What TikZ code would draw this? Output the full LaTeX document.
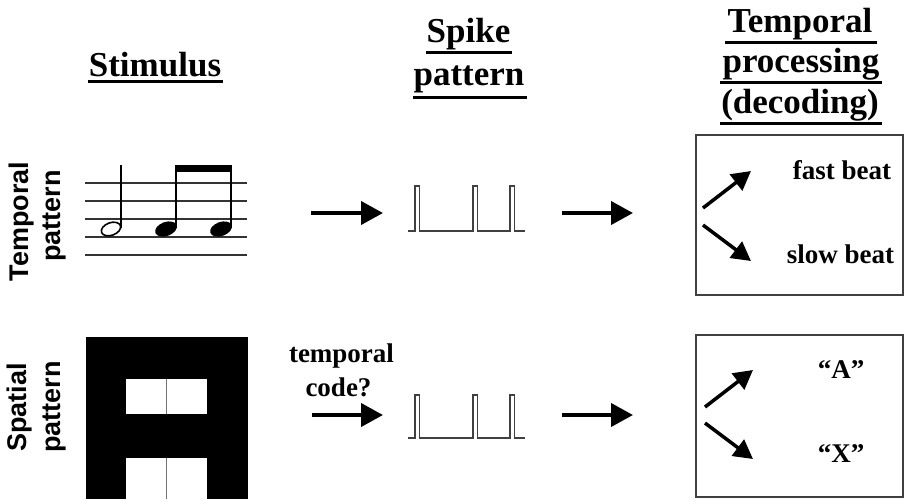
\documentclass[tikz,border=0pt]{standalone}
\usepackage{fontspec}
\setmainfont{Liberation Serif}
\setsansfont{Liberation Sans}
\usetikzlibrary{arrows.meta}
\begin{document}
\begin{tikzpicture}[x=1pt,y=-1pt,
  hdr/.style={font=\fontsize{35}{40}\selectfont\bfseries, inner sep=0pt, anchor=base},
  lbl/.style={font=\fontsize{27}{32}\selectfont\bfseries, inner sep=0pt, anchor=base},
  side/.style={font=\sffamily\fontsize{27}{32}\selectfont\bfseries, inner sep=0pt, anchor=base, rotate=90},
  uline/.style={line width=3pt},
  bigarrow/.style={line width=4pt, -{Triangle[length=22pt,width=23pt]}},
  smallarrow/.style={line width=3.5pt, -{Triangle[length=19pt,width=20pt]}},
  spikeline/.style={line width=1.5pt, black!75, line join=miter},
  staffline/.style={line width=1.2pt, black!80},
  framebox/.style={line width=1.3pt, black!75}]
\useasboundingbox (0,0) rectangle (906,499);

% headers
\node[hdr] (stim) at (155,76) {Stimulus};
\draw[uline] (88,81.5) -- (223,81.5);
\node[hdr] (spk1) at (468.5,42) {Spike};
\draw[uline] (426,52) -- (512,52);
\node[hdr] (spk2) at (469,85) {pattern};
\draw[uline] (413,97) -- (527,97);
\node[hdr] (tp1h) at (800,32) {Temporal};
\draw[uline] (725,42) -- (877,42);
\node[hdr] (tp2h) at (801,72) {processing};
\draw[uline] (720,82) -- (882,82);
\node[hdr] (tp3h) at (800,113) {(decoding)};
\draw[uline] (720,123) -- (882,123);

% side labels
\node[side] (tpa) at (28,221.5) {Temporal};
\node[side] (tpb) at (60,216) {pattern};
\node[side] (spa) at (27,407.5) {Spatial};
\node[side] (spb) at (60,407) {pattern};

% staff
\foreach \yy in {183,201,219,237,255}
  \draw[staffline] (85,\yy) -- (247,\yy);
% half note
\draw[line width=1.6pt, rotate around={20:(111,229)}] (111,229) ellipse [x radius=10pt, y radius=6.3pt];
\draw[line width=1.8pt] (121,228) -- (121,165);
% beamed eighth notes
\fill[rotate around={20:(166,229)}] (166,229) ellipse [x radius=11.3pt, y radius=7pt];
\fill[rotate around={20:(221,229)}] (221,229) ellipse [x radius=11.3pt, y radius=7pt];
\draw[line width=2pt] (176,228) -- (176,168);
\draw[line width=2pt] (231,228) -- (231,168);
\fill (175,165) rectangle (232,172);

% spatial pattern
\fill (86,337) rectangle (248,499);
\fill[white] (126,379) rectangle (207,414);
\fill[white] (126,458) rectangle (207,499);
\draw[black!55, line width=1pt] (166.5,379) -- (166.5,414);
\draw[black!55, line width=1pt] (166.5,458) -- (166.5,499);

% spike patterns
\draw[spikeline] (408,231) -- (415,231) -- (415,186) -- (419.5,186) -- (419.5,231)
  -- (473,231) -- (473,186) -- (477.5,186) -- (477.5,231)
  -- (510,231) -- (510,186) -- (514.5,186) -- (514.5,231) -- (525,231);
\draw[spikeline] (408,438) -- (415,438) -- (415,395) -- (419.5,395) -- (419.5,438)
  -- (473,438) -- (473,395) -- (477.5,395) -- (477.5,438)
  -- (510,438) -- (510,395) -- (514.5,395) -- (514.5,438) -- (525,438);

% temporal code label
\node[lbl] (tc1) at (341.5,362) {temporal};
\node[lbl] (tc2) at (338.5,396) {code?};

% main arrows
\coordinate (a1s) at (311,213); \coordinate (a1e) at (383,213);
\coordinate (a2s) at (562,213); \coordinate (a2e) at (633,213);
\coordinate (a3s) at (312,415); \coordinate (a3e) at (383,415);
\coordinate (a4s) at (562,415); \coordinate (a4e) at (633,415);
\draw[bigarrow] (a1s) -- (a1e);
\draw[bigarrow] (a2s) -- (a2e);
\draw[bigarrow] (a3s) -- (a3e);
\draw[bigarrow] (a4s) -- (a4e);

% decoding boxes
\draw[framebox] (696,135) rectangle (903,295);
\draw[framebox] (696,335) rectangle (903,497);

\node[lbl] (fast) at (842,179) {fast beat};
\node[lbl] (slow) at (840.5,263) {slow beat};
\node[lbl] (la) at (841,378) {“A”};
\node[lbl] (lx) at (841,462) {“X”};

\coordinate (u1s) at (703,208); \coordinate (u1e) at (751,171);
\coordinate (d1s) at (703,225); \coordinate (d1e) at (751,261);
\coordinate (u2s) at (705,407); \coordinate (u2e) at (753,370);
\coordinate (d2s) at (705,423); \coordinate (d2e) at (753,459);
\draw[smallarrow] (u1s) -- (u1e);
\draw[smallarrow] (d1s) -- (d1e);
\draw[smallarrow] (u2s) -- (u2e);
\draw[smallarrow] (d2s) -- (d2e);
\end{tikzpicture}
\end{document}
